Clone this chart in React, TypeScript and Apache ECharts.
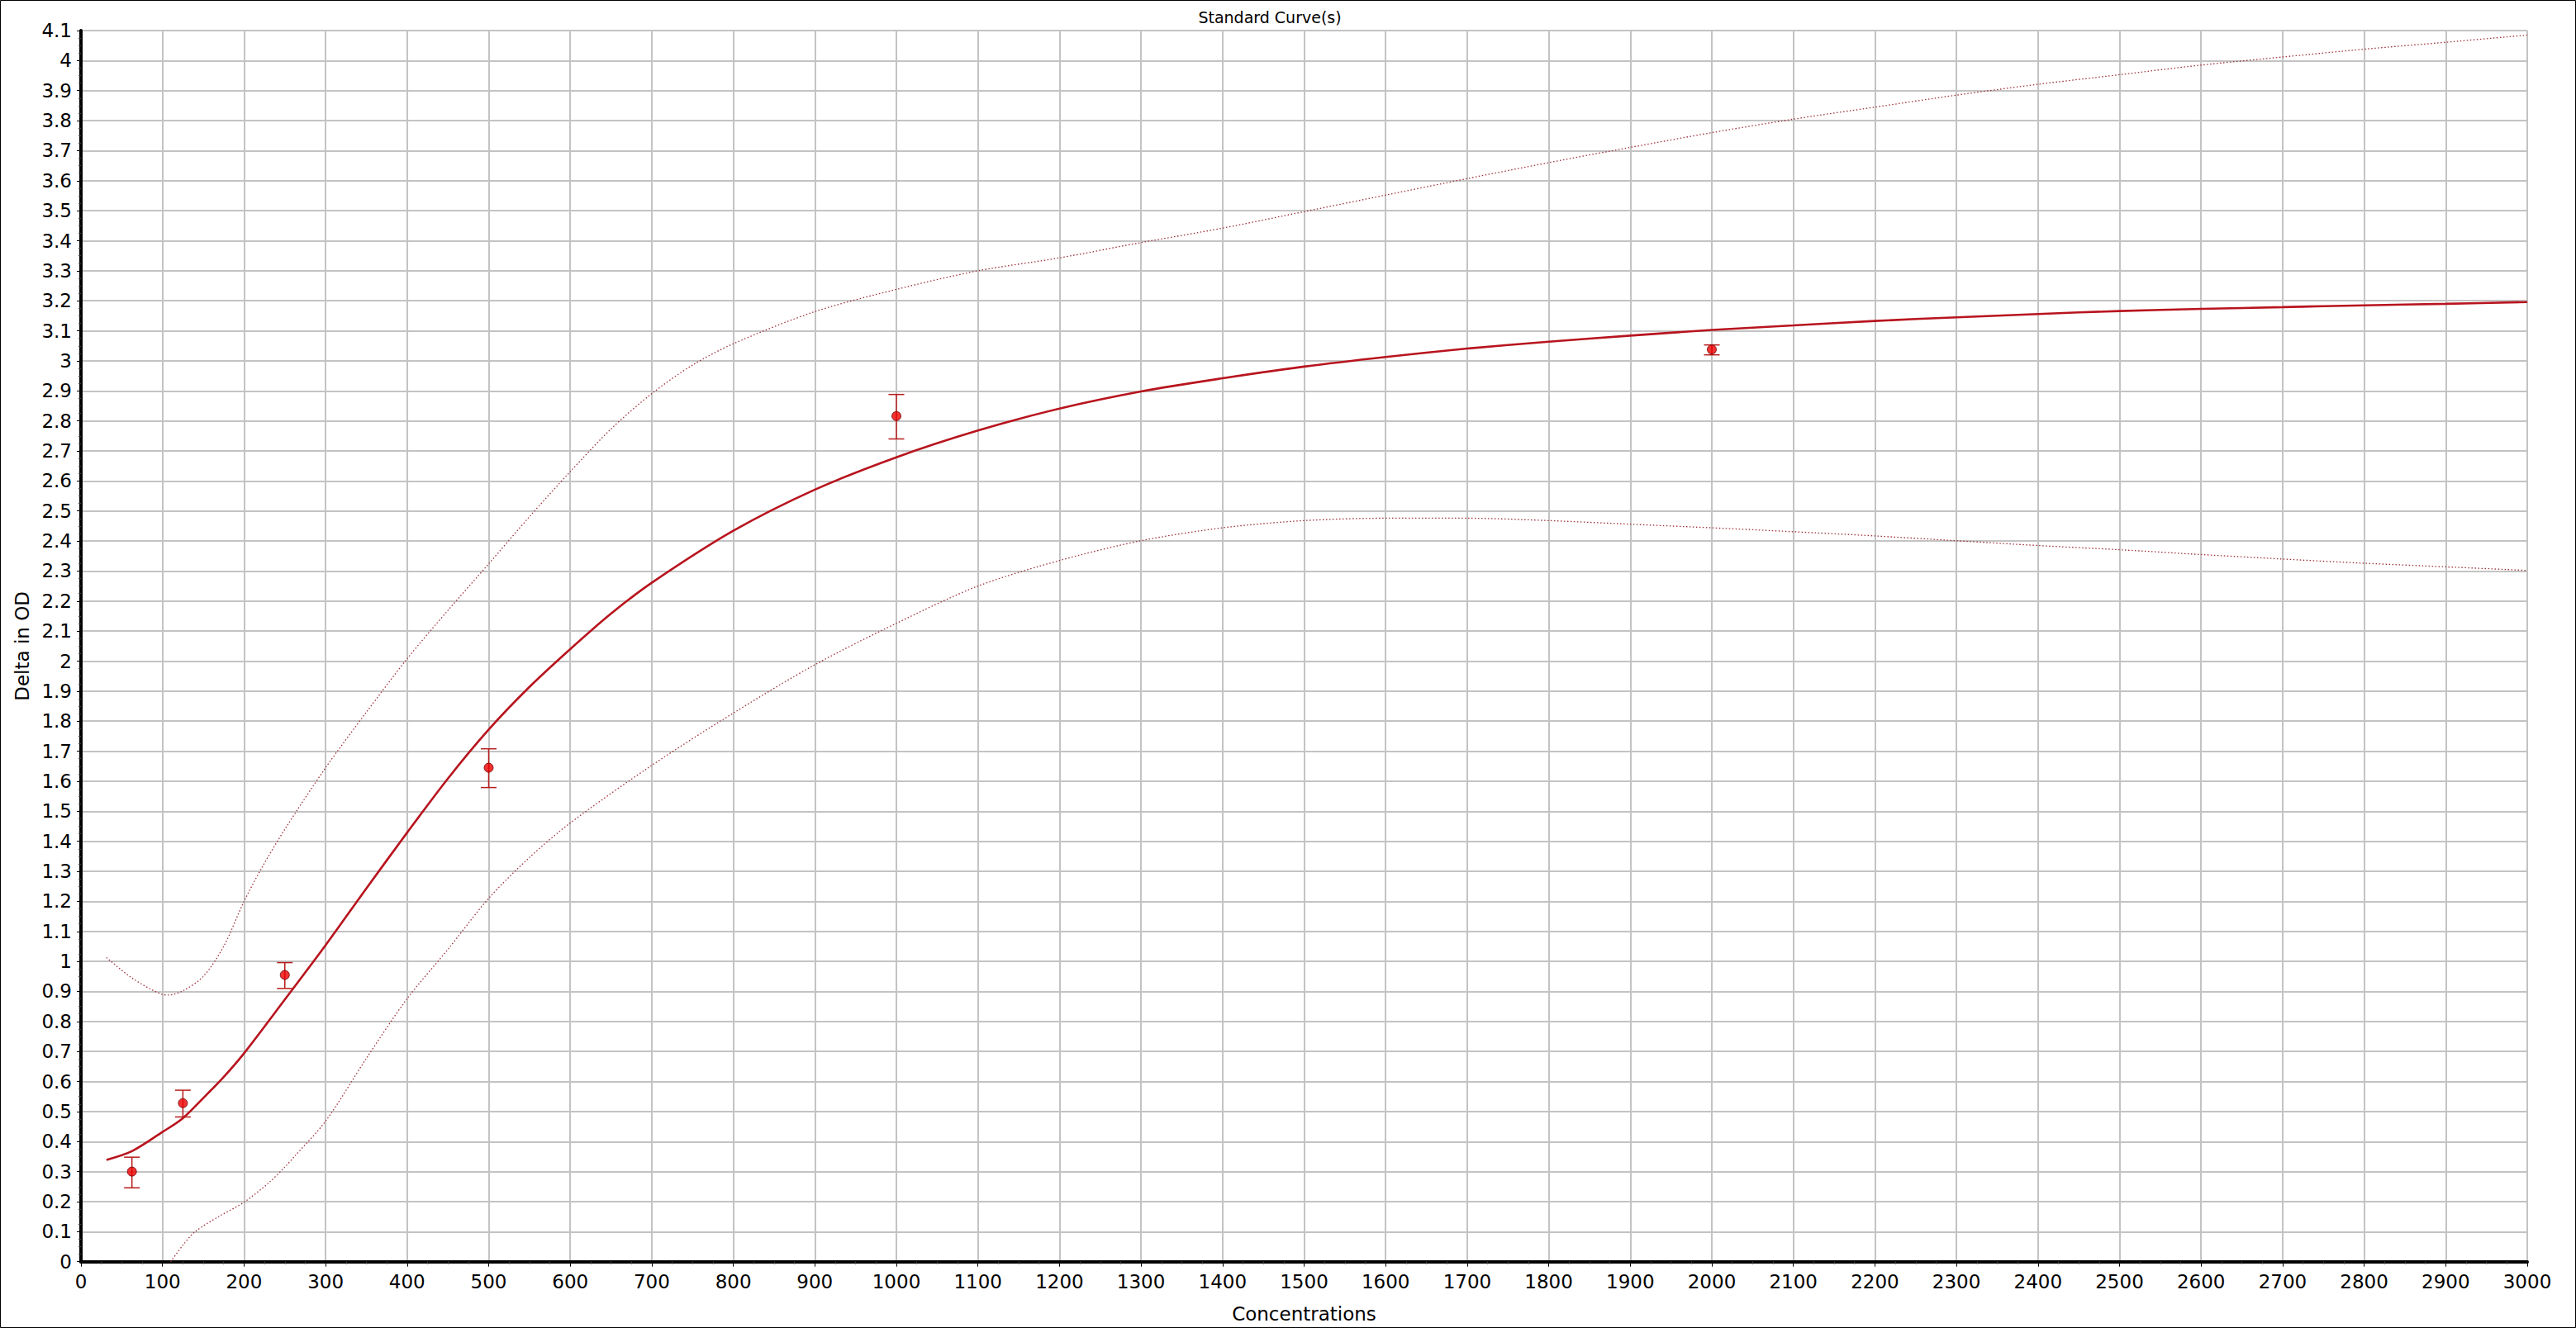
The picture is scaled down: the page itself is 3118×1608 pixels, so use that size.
import React, { useEffect, useRef } from "react";
import * as echarts from "echarts";

// ---- Data ----
const titleText = "Standard Curve(s)";
const xAxisName = "Concentrations";
const yAxisName = "Delta in OD";

// Fitted standard curve
const mainX = [31.25, 62.5, 100, 125, 150, 175, 200, 250, 300, 350, 400, 450, 500, 550, 600, 650, 700, 800, 900, 1000, 1100, 1200, 1300, 1400, 1500, 1600, 1700, 1800, 1900, 2000, 2100, 2200, 2300, 2400, 2500, 2600, 2700, 2800, 2900, 3000];
const mainY = [0.339, 0.368, 0.432, 0.478, 0.545, 0.615, 0.694, 0.873, 1.054, 1.243, 1.429, 1.609, 1.772, 1.914, 2.04, 2.158, 2.261, 2.434, 2.571, 2.679, 2.768, 2.841, 2.898, 2.942, 2.981, 3.013, 3.041, 3.064, 3.084, 3.103, 3.118, 3.133, 3.145, 3.156, 3.166, 3.173, 3.179, 3.185, 3.19, 3.196];

// Upper confidence band
const upperX = [31.25, 62.5, 100, 108, 125, 150, 175, 200, 222, 250, 300, 350, 400, 450, 500, 550, 600, 650, 700, 750, 800, 900, 1000, 1100, 1200, 1300, 1400, 1500, 1600, 1700, 1800, 1900, 2000, 2100, 2200, 2300, 2400, 2500, 2600, 2700, 2800, 2900, 3000];
const upperY = [1.013, 0.945, 0.89, 0.888, 0.902, 0.95, 1.05, 1.2, 1.313, 1.44, 1.645, 1.83, 2.008, 2.169, 2.324, 2.481, 2.631, 2.773, 2.891, 2.986, 3.057, 3.164, 3.238, 3.3, 3.343, 3.394, 3.442, 3.497, 3.552, 3.607, 3.66, 3.711, 3.76, 3.805, 3.845, 3.885, 3.921, 3.953, 3.985, 4.012, 4.038, 4.061, 4.085];

// Lower confidence band
const lowerX = [110, 125, 140, 170, 200, 230, 250, 262, 300, 350, 400, 450, 500, 550, 600, 700, 800, 900, 1000, 1100, 1200, 1300, 1400, 1500, 1600, 1700, 1800, 1900, 2000, 2100, 2200, 2300, 2400, 2500, 2600, 2700, 2800, 2900, 3000];
const lowerY = [0, 0.055, 0.1, 0.152, 0.198, 0.262, 0.315, 0.351, 0.468, 0.677, 0.876, 1.04, 1.21, 1.346, 1.461, 1.653, 1.827, 1.988, 2.126, 2.25, 2.335, 2.401, 2.444, 2.468, 2.476, 2.476, 2.468, 2.456, 2.444, 2.431, 2.417, 2.401, 2.385, 2.371, 2.355, 2.34, 2.326, 2.314, 2.302];

// Standards (mean and error bar range)
const stdX = [62.5, 125, 250, 500, 1000, 2000];
const stdY = [0.3, 0.528, 0.955, 1.645, 2.816, 3.038];
const stdLow = [0.246, 0.482, 0.91, 1.579, 2.74, 3.02];
const stdHigh = [0.348, 0.571, 0.996, 1.708, 2.888, 3.053];

const FONT = "DejaVu Sans";

function zip(xs: number[], ys: number[]) {
  return xs.map((x, i) => [x, ys[i]]);
}

export default function App() {
  const ref = useRef<HTMLDivElement>(null);

  useEffect(() => {
    if (!ref.current) return;
    const chart = echarts.init(ref.current, null, { renderer: "svg" });
    const errStyle = { stroke: "#b81c1c", lineWidth: 1.5 };
    const option: any = {
      animation: false,
      backgroundColor: "#ffffff",
      grid: {
        left: 98,
        right: 59,
        top: 37,
        bottom: 80.3,
        containLabel: false,
        outerBoundsMode: "none",
      },
      graphic: [
        {
          type: "rect",
          shape: { x: 0.5, y: 0.5, width: 3117, height: 1607 },
          style: { fill: "none", stroke: "#000", lineWidth: 1 },
          silent: true,
        },
        {
          type: "text",
          x: 1537,
          y: 21,
          style: {
            text: titleText,
            fontFamily: FONT,
            fontSize: 19,
            fill: "#000",
            align: "center",
            verticalAlign: "middle",
          },
        },
      ],
      xAxis: {
        type: "value",
        min: 0,
        max: 3000,
        interval: 100,
        name: xAxisName,
        nameLocation: "middle",
        nameGap: 52,
        nameTextStyle: { fontFamily: FONT, fontSize: 23, color: "#000" },
        axisLine: { show: true, onZero: false, lineStyle: { color: "#000", width: 4 } },
        axisTick: { show: true, length: 6, lineStyle: { color: "#000", width: 1 } },
        minorTick: { show: true, splitNumber: 4, length: 3, lineStyle: { color: "#444", width: 1 } },
        axisLabel: {
          fontFamily: FONT,
          fontSize: 23,
          color: "#000",
          margin: 13,
          formatter: (v: number) => String(v),
        },
        splitLine: { show: true, lineStyle: { color: "#c3c3c3", width: 2 } },
      },
      yAxis: {
        type: "value",
        min: 0,
        max: 4.1,
        interval: 0.1,
        name: yAxisName,
        nameLocation: "middle",
        nameRotate: 90,
        nameGap: 60,
        nameTextStyle: { fontFamily: FONT, fontSize: 23, color: "#000" },
        axisLine: { show: true, lineStyle: { color: "#000", width: 4 } },
        axisTick: { show: true, length: 5, lineStyle: { color: "#000", width: 1 } },
        minorTick: { show: true, splitNumber: 4, length: 3, lineStyle: { color: "#444", width: 1 } },
        axisLabel: {
          fontFamily: FONT,
          fontSize: 23,
          color: "#000",
          margin: 11,
          formatter: (v: number) => String(Math.round(v * 10) / 10),
        },
        splitLine: { show: true, lineStyle: { color: "#c3c3c3", width: 2 } },
      },
      series: [
        {
          name: "Upper",
          type: "line",
          data: zip(upperX, upperY),
          showSymbol: false,
          smooth: 0.3,
          lineStyle: { color: "#9c2f3a", width: 1.3, type: [1.5, 2.5] },
          z: 3,
        },
        {
          name: "Lower",
          type: "line",
          data: zip(lowerX, lowerY),
          showSymbol: false,
          smooth: 0.3,
          lineStyle: { color: "#9c2f3a", width: 1.3, type: [1.5, 2.5] },
          z: 3,
        },
        {
          name: "Curve",
          type: "line",
          data: zip(mainX, mainY),
          showSymbol: false,
          smooth: 0.3,
          lineStyle: { color: "#b8141e", width: 2.6 },
          z: 4,
        },
        {
          name: "Error",
          type: "custom",
          data: stdX.map((x, i) => [x, stdLow[i], stdHigh[i]]),
          encode: { x: 0, y: [1, 2] },
          renderItem: (params: any, api: any) => {
            const x = api.value(0);
            const lo = api.coord([x, api.value(1)]);
            const hi = api.coord([x, api.value(2)]);
            const hw = 9.5;
            return {
              type: "group",
              children: [
                { type: "line", shape: { x1: lo[0], y1: lo[1], x2: hi[0], y2: hi[1] }, style: errStyle },
                { type: "line", shape: { x1: lo[0] - hw, y1: lo[1], x2: lo[0] + hw, y2: lo[1] }, style: errStyle },
                { type: "line", shape: { x1: hi[0] - hw, y1: hi[1], x2: hi[0] + hw, y2: hi[1] }, style: errStyle },
              ],
            };
          },
          z: 5,
        },
        {
          name: "Standards",
          type: "scatter",
          data: zip(stdX, stdY),
          symbol: "circle",
          symbolSize: 11,
          itemStyle: { color: "#ee0000", borderColor: "#6e0000", borderWidth: 1 },
          z: 6,
        },
      ],
    };
    chart.setOption(option);
    return () => chart.dispose();
  }, []);

  return (
    <div
      ref={ref}
      style={{ position: "fixed", left: 0, top: 0, width: 3118, height: 1608, background: "#fff" }}
    />
  );
}
